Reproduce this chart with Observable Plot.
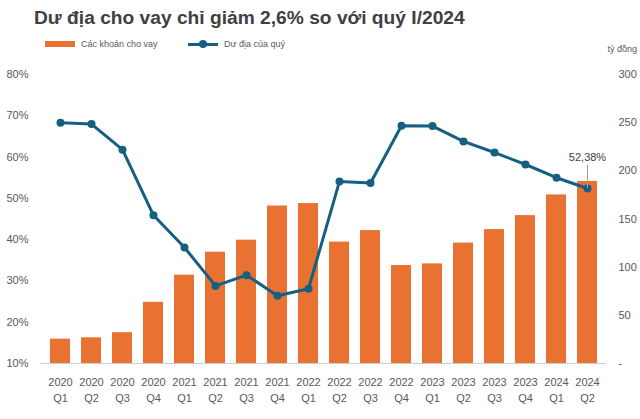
<!DOCTYPE html>
<html>
<head>
<meta charset="utf-8">
<script src="https://cdn.jsdelivr.net/npm/d3@7"></script>
<script src="https://cdn.jsdelivr.net/npm/@observablehq/plot@0.6"></script>
<style>
  body { margin: 0; background: #fff; font-family: "Liberation Sans", Arial, sans-serif; }
  #wrap { width: 640px; height: 419px; position: relative; overflow: hidden; }
  #title { height: 34px; line-height: 36px; padding-left: 34px; font-size: 19.2px; font-weight: bold; color: #404040; white-space: nowrap; }
  #legend { height: 22px; position: relative; font-size: 9px; color: #595959; }
  .item { position: absolute; top: 5px; display: flex; align-items: center; }
  .sw-bar { width: 30px; height: 6px; background: #E97132; margin-right: 6px; }
  .sw-line { width: 30px; height: 3px; background: #156082; margin-right: 6px; position: relative; }
  .sw-line::after { content: ""; position: absolute; left: 11px; top: -3px; width: 8px; height: 8px; border-radius: 50%; background: #156082; }
  #unit { position: absolute; right: 3px; top: 10px; font-size: 9px; color: #595959; }
</style>
</head>
<body>
<div id="wrap">
  <div id="title">Dư địa cho vay chỉ giảm 2,6% so với quý I/2024</div>
  <div id="legend">
    <div class="item" style="left:45px"><span class="sw-bar"></span><span>Các khoản cho vay</span></div>
    <div class="item" style="left:188px"><span class="sw-line"></span><span>Dư địa của quý</span></div>
    <div id="unit">tỷ đồng</div>
  </div>
  <div id="chart"></div>
</div>
<script>
const quarters = ["2020 Q1","2020 Q2","2020 Q3","2020 Q4","2021 Q1","2021 Q2","2021 Q3","2021 Q4",
  "2022 Q1","2022 Q2","2022 Q3","2022 Q4","2023 Q1","2023 Q2","2023 Q3","2023 Q4","2024 Q1","2024 Q2"];
const loans = [25.3, 26.7, 32, 63.5, 91.7, 115.6, 128, 163.5, 166, 126, 138, 101.7, 103.4, 125, 139, 153.5, 175, 189];
const headroom = [68.3, 68.0, 61.8, 45.9, 38.1, 28.8, 31.4, 26.4, 28.1, 54.1, 53.7, 67.6, 67.5, 63.8, 61.1, 58.2, 55.0, 52.38];
const leftTicks = [10, 20, 30, 40, 50, 60, 70, 80];
const rightTicks = [0, 50, 100, 150, 200, 250, 300];
const lastLabel = "52,38%";

const pctMin = 10, pctMax = 80, rightMax = 300;
const toRight = p => (p - pctMin) / (pctMax - pctMin) * rightMax;

const data = quarters.map((q, i) => ({q, loan: loans[i], pct: headroom[i]}));
const last = data[data.length - 1];

const chart = Plot.plot({
  width: 640,
  height: 363,
  marginTop: 18,
  marginBottom: 56,
  marginLeft: 40,
  marginRight: 34,
  style: { fontFamily: "'Liberation Sans', Arial, sans-serif", fontSize: "11px", color: "#595959", background: "transparent" },
  x: { domain: quarters, paddingInner: 0.36, paddingOuter: 0.1, axis: null },
  y: { domain: [0, rightMax], axis: null },
  marks: [
    Plot.barY(data, { x: "q", y: "loan", fill: "#E97132" }),
    Plot.ruleY([0], { stroke: "#d0d0d0", strokeWidth: 1 }),
    Plot.lineY(data, { x: "q", y: d => toRight(d.pct), stroke: "#156082", strokeWidth: 3 }),
    Plot.dot(data, { x: "q", y: d => toRight(d.pct), r: 4, fill: "#156082" }),
    Plot.ruleX([last], { x: "q", y1: d => toRight(d.pct), y2: d => toRight(d.pct) + 24, stroke: "#a0a0a0", strokeWidth: 1 }),
    Plot.text([last], { x: "q", y: d => toRight(d.pct) + 24, text: () => lastLabel, dy: -8, fill: "#404040", fontSize: 11 }),
    Plot.text(leftTicks, { y: d => toRight(d), frameAnchor: "left", text: d => d + "%", textAnchor: "end", dx: -12, fill: "#595959" }),
    Plot.axisY(rightTicks, { anchor: "right", tickSize: 0, tickPadding: 12, tickFormat: d => d === 0 ? "-" : String(d), label: null, fill: "#595959" }),
    Plot.text(quarters, { x: d => d, frameAnchor: "bottom", lineAnchor: "top", dy: 11, text: d => d.replace(" ", "\n"), lineHeight: 1.45, fill: "#595959" })
  ]
});
document.getElementById("chart").appendChild(chart);
</script>
</body>
</html>
